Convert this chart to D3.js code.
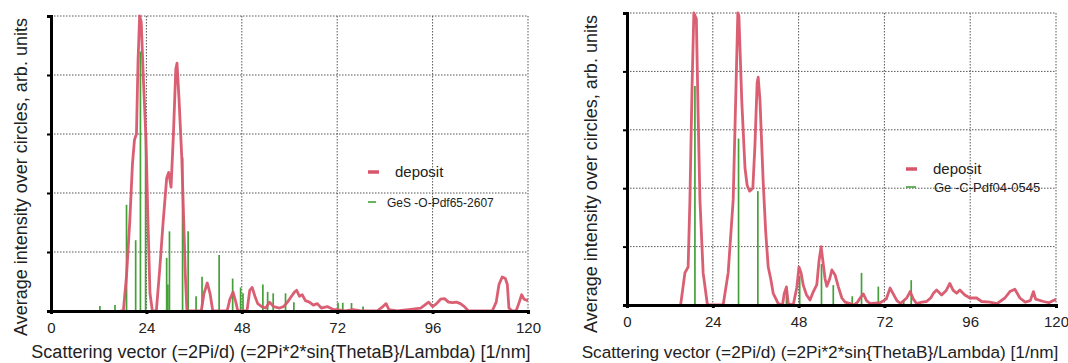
<!DOCTYPE html>
<html>
<head>
<meta charset="utf-8">
<script src="https://cdn.jsdelivr.net/npm/d3@7"></script>
<style>
	body { margin: 0; background: #fff; }
	svg { display: block; font-family: "Liberation Sans", Arial, sans-serif; }
</style>
</head>
<body>
<svg id="chart"></svg>
<script>
// x ticks and y grid levels, shared by both panels
const xTicks = [0, 24, 48, 72, 96, 120];
const yTicks = [0, 20, 40, 60, 80, 100];

// left panel: measured curve [q, intensity] and reference lines
const depositA = [[17.5,0],[18.2,0],[19,12],[19.8,30],[20.5,50],[21,58],[21.5,60],[21.9,85],[22.3,100],[22.7,98],[23.2,80],[23.9,58],[24.4,30],[24.9,6],[25.5,0],[26.5,0],[27.4,15],[28.2,30],[29.1,45],[29.6,47],[30.2,42],[30.8,60],[31.4,82],[31.7,84],[32.2,72],[32.9,52],[33.4,30],[33.8,12],[34.2,0],[37.8,0],[38.5,6],[39.3,9.5],[40,6],[40.7,0],[44.3,0],[45,4],[45.8,6.4],[46.5,3],[47,0],[49.3,0],[50,7],[50.6,8],[51.3,5],[52,2.5],[53,1.5],[54,1],[55,3],[56,1.5],[57.5,1],[58.5,1.5],[59.5,3],[60.5,5],[61.3,6.5],[61.8,7],[62.5,5],[63.2,5.5],[64,3.5],[65,3],[66,2],[67,2.5],[68,1],[69.5,1.5],[71,0.5],[72,0.5],[74,0],[76,0.5],[78,0],[80,0],[82,0],[83.5,1.5],[84.3,2.5],[85,0.5],[87,0],[90,0.5],[93,1],[94,2],[95,3],[96,1.5],[97,2.5],[98,4],[99,4.2],[100,3],[101,2.8],[102,3],[103,2.5],[104,1.5],[105,0],[111,0],[112,3],[112.7,9],[113.5,11.5],[114.3,11],[114.8,9],[115.2,1],[116,0],[117,0],[117.8,3],[118.4,5.5],[119,4],[120,3.5]];
const gesRef = [[12.3,1.7],[16.1,2],[19.0,36],[21.3,24],[22.5,88],[23.8,60],[29.1,18],[29.4,9],[29.8,27],[33.1,52],[34.5,27],[36.5,5],[38.0,11.6],[42.3,19],[45.7,11],[47.7,8],[48.3,6],[53.3,9],[54.5,6.5],[55.9,6],[59.0,6],[61.1,3],[72.2,2.8],[73.4,2.8],[75.6,2.7],[78.5,1.5]];

// right panel
const depositB = [[15,0],[16.2,11],[17.1,13],[17.6,36],[18.2,75],[18.7,100],[19.4,98],[19.9,65],[20.4,36],[21.3,11],[22.5,0],[26.9,0],[28.3,11],[29.7,36],[30.5,75],[31.0,100],[31.3,99],[32.1,70],[33.0,47],[33.6,41],[34.3,39],[35.2,40],[35.8,55],[36.4,76],[36.7,78],[37.2,70],[38.1,42],[38.8,25],[39.5,13],[40.2,9],[40.9,4],[42.3,0.5],[43.5,0],[44.0,4],[44.6,6.2],[45.1,0.5],[46.5,0],[47.5,6],[48.1,13],[48.7,11],[49.3,6.8],[50.2,3.5],[51.2,1.7],[52.1,4.5],[53.1,7],[53.7,15],[54.3,20],[54.8,15],[55.4,9],[55.9,6.4],[56.7,9],[57.3,12],[58.2,10.3],[59.1,6.3],[60.1,2.4],[61,1],[62.4,0.5],[63.5,0],[64.5,1],[65.2,2.4],[66.1,3.8],[67,1.5],[68,0.5],[70.8,0.8],[72.5,2],[73.6,5.8],[74.4,4],[75.5,1.5],[76.5,0.5],[78.3,2.5],[79.2,4.6],[80.1,2],[81,0.5],[82.5,1],[83.8,1.2],[85,2.5],[85.7,4],[86.6,5.1],[88.0,3.4],[89.3,5],[90.3,7.4],[91.2,5.1],[92.2,4],[93.1,5.1],[94.5,3.4],[95.9,2.4],[97.8,2.4],[99.2,1.2],[101.5,1],[103.5,0.5],[105.7,2.4],[107.1,4.6],[108.5,5.4],[109.9,2.4],[111.4,1],[112.8,1.5],[113.7,4.6],[114.3,2],[116.5,1.2],[118,0.8],[120,2]];
const geRef = [[19.0,75],[31.2,57],[36.6,39],[44.6,5],[48.3,10],[54.4,14],[57.7,6.8],[63.0,3],[65.6,11],[70.3,6.3],[77.4,1.5],[79.5,8.5]];

const legendA = ["deposit", "GeS -O-Pdf65-2607"];
const legendB = ["deposit", "Ge -C-Pdf04-0545"];

const xLabel = "Scattering vector (=2Pi/d) (=2Pi*2*sin{ThetaB}/Lambda) [1/nm]";
const yLabel = "Average intensity over circles, arb. units";

const red = "#d8566c";
const green = "#45a03a";

let w = 1068;
let h = 363;

let svg = d3.select("#chart").attr("width", w).attr("height", h);

function makePanel(opt) {
	let xScale = d3.scaleLinear().domain([0, 120]).range([opt.left, opt.right]);
	let yScale = d3.scaleLinear().domain([0, 100]).range([opt.bottom, opt.top]);

	let g = svg.append("g");

	// dotted grid
	g.append("g").selectAll("line")
		.data(yTicks.slice(1))
		.enter().append("line")
		.attr("x1", opt.left).attr("x2", opt.right)
		.attr("y1", d => yScale(d)).attr("y2", d => yScale(d))
		.attr("stroke", "#555").attr("stroke-width", 1)
		.attr("stroke-dasharray", "1.5,1.5");
	g.append("g").selectAll("line")
		.data(xTicks.slice(1))
		.enter().append("line")
		.attr("x1", d => xScale(d)).attr("x2", d => xScale(d))
		.attr("y1", opt.top).attr("y2", opt.bottom)
		.attr("stroke", "#555").attr("stroke-width", 1)
		.attr("stroke-dasharray", "1.5,1.5");

	// reference lines
	g.append("g").selectAll("line")
		.data(opt.ref)
		.enter().append("line")
		.attr("x1", d => xScale(d[0])).attr("x2", d => xScale(d[0]))
		.attr("y1", yScale(0)).attr("y2", d => yScale(d[1]))
		.attr("stroke", green).attr("stroke-width", 1.7);

	// measured curve
	let line = d3.line().x(d => xScale(d[0])).y(d => yScale(d[1]));
	g.append("path")
		.datum(opt.curve)
		.attr("d", line)
		.attr("fill", "none")
		.attr("stroke", red)
		.attr("stroke-width", 2.8)
		.attr("stroke-linejoin", "round")
		.attr("opacity", 0.95);

	// AXES
	let xAxis = d3.axisBottom(xScale).tickValues(xTicks).tickSize(3).tickPadding(8);
	let yAxis = d3.axisLeft(yScale).tickValues(yTicks).tickSize(4).tickFormat("");

	let ax = g.append("g")
		.attr("transform", `translate(0,${opt.bottom})`)
		.call(xAxis);
	ax.select(".domain").attr("stroke", "#000").attr("stroke-width", 3);
	ax.selectAll(".tick line").attr("stroke", "#000").attr("stroke-width", 3);
	ax.selectAll("text").attr("font-size", 15).attr("fill", "#222")
		.attr("font-family", "Liberation Sans, Arial, sans-serif");

	let ay = g.append("g")
		.attr("transform", `translate(${opt.left},0)`)
		.call(yAxis);
	ay.select(".domain").attr("stroke", "#000").attr("stroke-width", 3);
	ay.selectAll(".tick line").attr("stroke", "#000").attr("stroke-width", 2);

	// LABELS
	g.append("text")
		.attr("x", opt.xLabelX)
		.attr("y", 358)
		.attr("font-size", opt.labelFont)
		.attr("fill", "#222")
		.style("text-anchor", "middle")
		.text(xLabel);

	g.append("text")
		.attr("transform", "rotate(-90)")
		.attr("x", -opt.yLabelMid)
		.attr("y", opt.yLabelY)
		.attr("font-size", 18)
		.attr("fill", "#222")
		.style("text-anchor", "middle")
		.text(yLabel);

	// legend
	let lg = g.append("g").attr("transform", `translate(${opt.legX},${opt.legY})`);
	lg.append("line").attr("x1", 0).attr("x2", 11).attr("y1", 0).attr("y2", 0)
		.attr("stroke", red).attr("stroke-width", 3.5);
	lg.append("text").attr("x", 27).attr("y", 5).attr("font-size", 15).attr("fill", "#222").text(opt.legend[0]);
	lg.append("line").attr("x1", 0).attr("x2", opt.legDash).attr("y1", opt.legGap).attr("y2", opt.legGap)
		.attr("stroke", green).attr("stroke-width", 1.6);
	lg.append("text").attr("x", opt.legTextX).attr("y", opt.legGap + 4.5)
		.attr("font-size", opt.legFont).attr("fill", "#222").text(opt.legend[1]);
}

makePanel({
	left: 51, right: 528, top: 16, bottom: 311,
	curve: depositA, ref: gesRef, legend: legendA,
	xLabelX: 281, labelFont: 18, yLabelY: 27, yLabelMid: 177,
	legX: 368, legY: 172, legGap: 30, legDash: 8, legTextX: 19, legFont: 12
});

makePanel({
	left: 627, right: 1056, top: 13, bottom: 305,
	curve: depositB, ref: geRef, legend: legendB,
	xLabelX: 820, labelFont: 17.2, yLabelY: 597, yLabelMid: 174,
	legX: 906, legY: 169, legGap: 18, legDash: 10, legTextX: 28, legFont: 13
});
</script>
</body>
</html>
